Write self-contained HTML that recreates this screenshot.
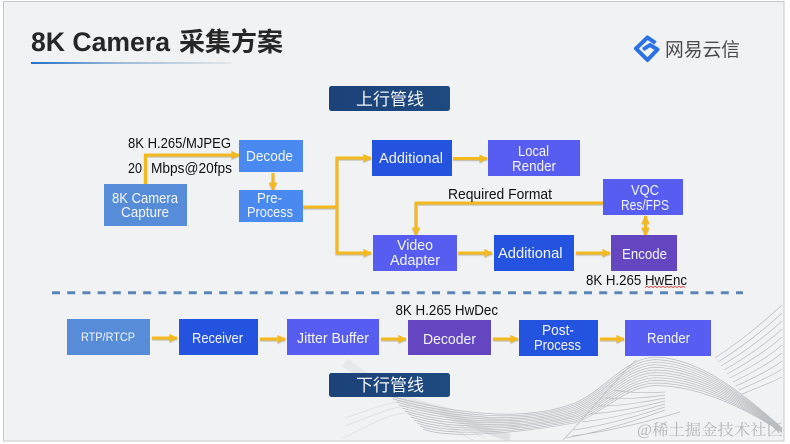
<!DOCTYPE html>
<html><head><meta charset="utf-8">
<style>
html,body{margin:0;padding:0;background:#fff;width:790px;height:444px;overflow:hidden}
svg{display:block;overflow:hidden}
text{font-family:"Liberation Sans","Noto Sans CJK SC",sans-serif}
.w{fill:#f4f6ff;font-size:15px}
.k{fill:#111;font-size:14.5px}
</style></head><body>
<svg width="790" height="444" viewBox="0 0 790 444" xmlns="http://www.w3.org/2000/svg">
<defs>
<linearGradient id="ul" x1="0" x2="1" y1="0" y2="0"><stop offset="0" stop-color="#2470c8"/><stop offset=".45" stop-color="#9dbbd8"/><stop offset="1" stop-color="#e4e6e8"/></linearGradient>
<linearGradient id="pill" x1="0" x2="1" y1="0" y2="0"><stop offset="0" stop-color="#1b4279"/><stop offset="1" stop-color="#1e4a80"/></linearGradient>
<marker id="a" viewBox="0 0 10 10" refX="9" refY="5" markerWidth="2.8" markerHeight="3" orient="auto-start-reverse"><path d="M0 0L10 5L0 10Z" fill="#f4b91f"/></marker>
</defs>
<rect width="790" height="444" fill="#fff"/>
<rect x="3.5" y="1.5" width="780.5" height="439.5" fill="#f0f2f4" stroke="#c6c8c8"/>

<!-- decorative waves -->
<path d="M345 362C375 385 400 402 440 410C470 418 490 424 520 424" fill="none" stroke="#e3e5e7" stroke-width="9" opacity=".8"/>
<path d="M440 410C470 425 490 432 510 438" fill="none" stroke="#d6d9db" stroke-width="7" opacity=".7"/>
<g fill="none" stroke="#dde0e2" stroke-width=".8">
<path d="M343 438C370 425 390 413 407 413C430 413 450 428 473 440"/>
<path d="M345 426C375 415 395 405 412 406C435 408 455 424 485 438"/>
<path d="M345 418C375 408 395 399 415 401C440 404 465 422 495 436"/>
</g>
<g fill="none" stroke="#b9bdc1" stroke-width=".7">
<path d="M390 396C450 412 520 424 575 403C605 390 625 358 655 357C700 358 745 395 782 428"/>
<path d="M393 399C450 414.5 520 424.8 575 404.8C605 392 625 360.6 655 359.6C700 360.5 745 396.2 782 428.4"/>
<path d="M396 402C450 417 520 425.6 575 406.6C605 394 625 363.2 655 362.2C700 363 745 397.4 782 428.8"/>
<path d="M399 405C450 419.5 520 426.4 575 408.4C605 396 625 365.8 655 364.8C700 365.5 745 398.6 782 429.2"/>
<path d="M402 408C450 422 520 427.2 575 410.2C605 398 625 368.4 655 367.4C700 368 745 399.8 782 429.6"/>
<path d="M405 411C450 424.5 520 428 575 412C605 400 625 371 655 370C700 370.5 745 401 782 430"/>
<path d="M408 414C450 427 520 428.8 575 413.8C605 402 625 373.6 655 372.6C700 373 745 402.2 782 430.4"/>
<path d="M411 417C450 429.5 520 429.6 575 415.6C605 404 625 376.2 655 375.2C700 375.5 745 403.4 782 430.8"/>
<path d="M414 420C450 432 520 430.4 575 417.4C605 406 625 378.8 655 377.8C700 378 745 404.6 782 431.2"/>
<path d="M417 423C450 434.5 520 431.2 575 419.2C605 408 625 381.4 655 380.4C700 380.5 745 405.8 782 431.6"/>
<path d="M420 426C450 437 520 432 575 421C605 410 625 384 655 383C700 383 745 407 782 432"/>
<path d="M423 429C450 439.5 520 432.8 575 422.8C605 412 625 386.6 655 385.6C700 385.500 745 408.2 782 432.4"/>
<path d="M563 440C590 412 615 380 636 360"/>
<path d="M566 438Q610 430 665 410"/>
<path d="M572 436Q620 430 680 412"/>
<path d="M574 430Q614 424 665 407"/>
<path d="M582 422Q618 418 665 404"/>
<path d="M590 414Q622 412 665 401"/>
<path d="M598 406Q626 406 665 398"/>
<path d="M606 398Q630 400 665 395"/>
<path d="M614 390Q634 394 665 392"/>
<path d="M715 358Q750 335 782 305"/>
<path d="M718 362Q753 340 782 313"/>
<path d="M721 366Q756 345 782 321"/>
<path d="M724 370Q759 350 782 329"/>
<path d="M727 374Q762 355 782 337"/>
<path d="M730 378Q765 360 782 345"/>
<path d="M733 382Q768 365 782 353"/>
<path d="M736 386Q771 370 782 361"/>
<path d="M739 390Q774 375 782 369"/>
<path d="M742 394Q777 380 782 377"/>
</g>

<!-- title -->
<text x="31" y="51" font-size="27" font-weight="700" fill="#262626" textLength="139" lengthAdjust="spacingAndGlyphs">8K Camera</text>
<text x="179" y="51" font-size="26" font-weight="700" fill="#262626" textLength="104" lengthAdjust="spacingAndGlyphs">采集方案</text>
<rect x="31" y="62" width="200" height="2" fill="url(#ul)"/>

<!-- logo -->
<path d="M655.500 43L647.500 37.500L636 48.500L647.500 60L657.500 49.500L650 45L643 49.500" fill="none" stroke="#2b72e6" stroke-width="4" stroke-linejoin="round"/>
<text x="665" y="56" font-size="18.800" fill="#4a4a4a" textLength="75" lengthAdjust="spacingAndGlyphs">网易云信</text>

<!-- pills -->
<rect x="329" y="86" width="121" height="25" rx="2.500" fill="url(#pill)"/>
<text x="356" y="105" font-size="17" fill="#f4f6fa" textLength="68" lengthAdjust="spacingAndGlyphs">上行管线</text>
<rect x="329" y="373" width="121" height="24" rx="2.500" fill="url(#pill)"/>
<text x="356" y="391" font-size="17" fill="#f4f6fa" textLength="68" lengthAdjust="spacingAndGlyphs">下行管线</text>

<!-- dashed -->
<line x1="52" y1="292.800" x2="743" y2="292.800" stroke="#5a85b5" stroke-width="3" stroke-dasharray="8 7.200"/>

<!-- connectors -->
<g fill="none" stroke="#f4b91f" stroke-width="3" style="filter:drop-shadow(0 1px .6px rgba(90,70,20,.35))">
<path d="M145.500 184V155H239" marker-end="url(#a)"/>
<path d="M273 173V190" marker-end="url(#a)"/>
<path d="M303 207H337"/>
<path d="M371 158H337V253H371" marker-start="url(#a)" marker-end="url(#a)"/>
<path d="M453 158.500H487" marker-end="url(#a)"/>
<path d="M603 203H416V235" marker-end="url(#a)"/>
<path d="M645.500 216V235" marker-start="url(#a)" marker-end="url(#a)"/>
<path d="M458 253H492" marker-end="url(#a)"/>
<path d="M576 253H610" marker-end="url(#a)"/>
<path d="M152 338H177" marker-end="url(#a)"/>
<path d="M260 339H285" marker-end="url(#a)"/>
<path d="M381 339H406" marker-end="url(#a)"/>
<path d="M493 339H518" marker-end="url(#a)"/>
<path d="M600 339H624" marker-end="url(#a)"/>
</g>

<!-- boxes -->
<rect x="104" y="184" width="83" height="42" fill="#578dd8"/>
<rect x="239" y="140" width="64" height="32" fill="#4a8af0"/>
<rect x="239" y="190" width="64" height="32" fill="#4a8af0"/>
<rect x="372" y="140" width="80" height="36" fill="#2453e0"/>
<rect x="488" y="140" width="92" height="36" fill="#575df0"/>
<rect x="603" y="179" width="80" height="36" fill="#575df0"/>
<rect x="373" y="235" width="84" height="36" fill="#575df0"/>
<rect x="494" y="235" width="80" height="36" fill="#2453e0"/>
<rect x="611" y="235" width="66" height="36" fill="#6447c0"/>
<rect x="67" y="319" width="83" height="36" fill="#578dd8"/>
<rect x="179" y="319" width="79" height="36" fill="#2453e0"/>
<rect x="287" y="319" width="92" height="36" fill="#575df0"/>
<rect x="408" y="320" width="83" height="35" fill="#6447c0"/>
<rect x="519" y="320" width="79" height="36" fill="#2453e0"/>
<rect x="625" y="320" width="86" height="36" fill="#575df0"/>

<!-- box labels -->
<text class="w" x="246" y="161" textLength="47" lengthAdjust="spacingAndGlyphs">Decode</text>
<text class="w" x="257" y="203" textLength="25" lengthAdjust="spacingAndGlyphs">Pre-</text>
<text class="w" x="247" y="217" textLength="46" lengthAdjust="spacingAndGlyphs">Process</text>
<text class="w" x="112" y="203" textLength="66" lengthAdjust="spacingAndGlyphs">8K Camera</text>
<text class="w" x="121" y="217" textLength="48" lengthAdjust="spacingAndGlyphs">Capture</text>
<text class="w" x="379" y="163" textLength="64" lengthAdjust="spacingAndGlyphs">Additional</text>
<text class="w" x="518" y="156" textLength="31" lengthAdjust="spacingAndGlyphs">Local</text>
<text class="w" x="512" y="171" textLength="44" lengthAdjust="spacingAndGlyphs">Render</text>
<text class="w" x="631" y="195" textLength="28" lengthAdjust="spacingAndGlyphs">VQC</text>
<text class="w" x="621" y="210" textLength="48" lengthAdjust="spacingAndGlyphs">Res/FPS</text>
<text class="w" x="397" y="250" textLength="36" lengthAdjust="spacingAndGlyphs">Video</text>
<text class="w" x="390" y="265" textLength="50" lengthAdjust="spacingAndGlyphs">Adapter</text>
<text class="w" x="498" y="258" textLength="64.500" lengthAdjust="spacingAndGlyphs">Additional</text>
<text class="w" x="622" y="259" textLength="45" lengthAdjust="spacingAndGlyphs">Encode</text>
<text class="w" style="font-size:12px" x="81" y="341" textLength="54" lengthAdjust="spacingAndGlyphs">RTP/RTCP</text>
<text class="w" x="192" y="343" textLength="51" lengthAdjust="spacingAndGlyphs">Receiver</text>
<text class="w" x="297" y="343" textLength="72" lengthAdjust="spacingAndGlyphs">Jitter Buffer</text>
<text class="w" x="423" y="344" textLength="53" lengthAdjust="spacingAndGlyphs">Decoder</text>
<text class="w" x="542" y="335" textLength="32" lengthAdjust="spacingAndGlyphs">Post-</text>
<text class="w" x="534" y="350" textLength="47" lengthAdjust="spacingAndGlyphs">Process</text>
<text class="w" x="647" y="343" textLength="43" lengthAdjust="spacingAndGlyphs">Render</text>

<!-- black labels -->
<text class="k" x="128" y="148" textLength="103" lengthAdjust="spacingAndGlyphs">8K H.265/MJPEG</text>
<text class="k" x="128" y="173" textLength="14" lengthAdjust="spacingAndGlyphs">20</text>
<text class="k" x="151" y="173" textLength="81" lengthAdjust="spacingAndGlyphs">Mbps@20fps</text>
<text class="k" x="448" y="199" textLength="104" lengthAdjust="spacingAndGlyphs">Required Format</text>
<text class="k" x="586" y="285" textLength="101" lengthAdjust="spacingAndGlyphs">8K H.265 HwEnc</text>
<text class="k" x="395.500" y="315" textLength="102.500" lengthAdjust="spacingAndGlyphs">8K H.265 HwDec</text>
<path d="M645 287.500l2 -1.200l2 1.200l2 -1.200l2 1.200l2 -1.200l2 1.200l2 -1.200l2 1.200l2 -1.200l2 1.200l2 -1.200l2 1.200l2 -1.200l2 1.200l2 -1.200l2 1.200l2 -1.200l2 1.200l2 -1.200l2 1.200" fill="none" stroke="#d8403a" stroke-width=".8"/>

<!-- watermark -->
<text x="637" y="435" font-size="15.500" fill="#b4b7ba" textLength="146" lengthAdjust="spacingAndGlyphs" style="font-family:'Liberation Serif','Noto Serif CJK SC',serif">@稀土掘金技术社区</text>
</svg>
</body></html>
